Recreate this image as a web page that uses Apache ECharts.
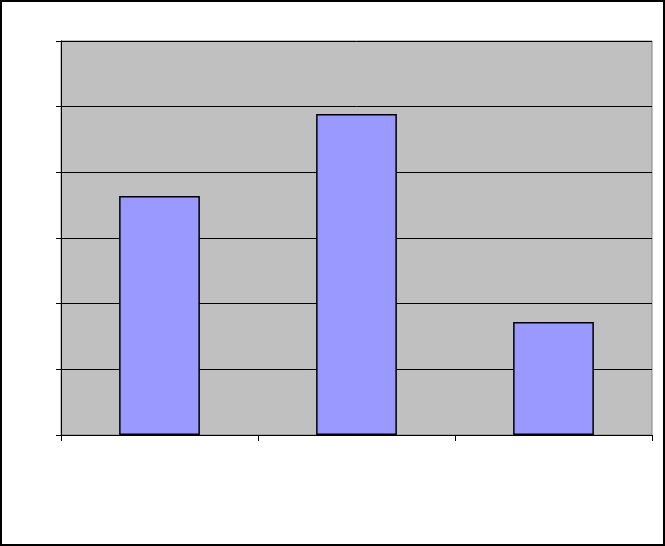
<!DOCTYPE html>
<html>
<head>
<meta charset="utf-8">
<script src="https://cdn.jsdelivr.net/npm/echarts@6/dist/echarts.min.js"></script>
<style>
html,body{margin:0;padding:0;background:#fff;}
#c{width:665px;height:546px;}
</style>
</head>
<body>
<div id="c"></div>
<script>
var categories = ['A', 'B', 'C'];
var values = [3.64, 4.89, 1.72];
var yMin = 0, yMax = 6, yInterval = 1;

var chart = echarts.init(document.getElementById('c'), null, {renderer: 'canvas'});
chart.setOption({
  animation: false,
  backgroundColor: '#ffffff',
  graphic: [{
    type: 'rect',
    shape: {x: 1, y: 1, width: 663, height: 544},
    style: {fill: 'none', stroke: '#000', lineWidth: 2},
    z: 100
  }],
  grid: {
    left: 61, top: 41, right: 13, bottom: 111,
    show: true, backgroundColor: '#C0C0C0', borderColor: '#808080', borderWidth: 1
  },
  xAxis: {
    type: 'category',
    data: categories,
    axisLine: {lineStyle: {color: '#000', width: 1}},
    axisTick: {show: true, alignWithLabel: false, length: 6, lineStyle: {color: '#000'}},
    axisLabel: {show: false}
  },
  yAxis: {
    type: 'value',
    min: yMin, max: yMax, interval: yInterval,
    axisLine: {show: true, lineStyle: {color: '#000', width: 1}},
    axisTick: {show: true, length: 5, lineStyle: {color: '#000'}},
    axisLabel: {show: false},
    splitLine: {show: true, lineStyle: {color: '#000', width: 1}}
  },
  series: [{
    type: 'bar',
    data: values,
    barWidth: '41%',
    itemStyle: {color: '#9999FF', borderColor: '#000', borderWidth: 1.5}
  }]
});
</script>
</body>
</html>
